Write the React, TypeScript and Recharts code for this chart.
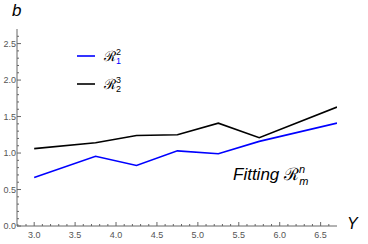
import React from "react";
import { LineChart, Line, XAxis, YAxis } from "recharts";

const xValues = [3.0, 3.75, 4.25, 4.75, 5.25, 5.75, 6.7];
const seriesR12 = [0.665, 0.955, 0.83, 1.03, 0.99, 1.16, 1.41];
const seriesR23 = [1.06, 1.14, 1.24, 1.25, 1.41, 1.21, 1.63];

const xMajorTicks = [3.0, 3.5, 4.0, 4.5, 5.0, 5.5, 6.0, 6.5];
const xAllTicks = [2.8, 2.9, 3.0, 3.1, 3.2, 3.3, 3.4, 3.5, 3.6, 3.7, 3.8, 3.9, 4.0, 4.1, 4.2, 4.3, 4.4, 4.5, 4.6, 4.7, 4.8, 4.9, 5.0, 5.1, 5.2, 5.3, 5.4, 5.5, 5.6, 5.7, 5.8, 5.9, 6.0, 6.1, 6.2, 6.3, 6.4, 6.5, 6.6];
const yMajorTicks = [0.0, 0.5, 1.0, 1.5, 2.0, 2.5];
const yAllTicks = [0.0, 0.1, 0.2, 0.3, 0.4, 0.5, 0.6, 0.7, 0.8, 0.9, 1.0, 1.1, 1.2, 1.3, 1.4, 1.5, 1.6, 1.7, 1.8, 1.9, 2.0, 2.1, 2.2, 2.3, 2.4, 2.5, 2.6];

const data = xValues.map((x, i) => ({ x, r12: seriesR12[i], r23: seriesR23[i] }));

const isMajor = (v: number, majors: number[]) => majors.some((m) => Math.abs(m - v) < 1e-6);
const TICK_COLOR = "#666";
const LABEL_COLOR = "#555";
const FONT = "Arial, 'Liberation Sans', sans-serif";

const XTick = (props: any) => {
  const { x, payload } = props;
  const major = isMajor(payload.value, xMajorTicks);
  const axisY = 226;
  return (
    <g>
      <line x1={x} x2={x} y1={axisY} y2={axisY - (major ? 4 : 2)} stroke={TICK_COLOR} strokeWidth={1} />
      {major && (
        <text x={x} y={axisY + 12} textAnchor="middle" fontSize={9} fill={LABEL_COLOR} fontFamily={FONT}>
          {payload.value.toFixed(1)}
        </text>
      )}
    </g>
  );
};

const YTick = (props: any) => {
  const { y, payload } = props;
  const major = isMajor(payload.value, yMajorTicks);
  const axisX = 17;
  return (
    <g>
      <line x1={axisX} x2={axisX + (major ? 4 : 2)} y1={y} y2={y} stroke={TICK_COLOR} strokeWidth={1} />
      {major && (
        <text x={axisX - 1} y={y + 3} textAnchor="end" fontSize={9} fill={LABEL_COLOR} fontFamily={FONT}>
          {payload.value.toFixed(1)}
        </text>
      )}
    </g>
  );
};

export default function App() {
  return (
    <div style={{ position: "absolute", left: 0, top: 0, width: 368, height: 244, background: "#fff" }}>
      <LineChart width={368} height={244} data={data} margin={{ top: 29, right: 31, bottom: 0, left: 0 }}>
        <XAxis
          dataKey="x"
          type="number"
          domain={[2.79, 6.7]}
          ticks={xAllTicks}
          interval={0}
          tick={<XTick />}
          tickLine={false}
          axisLine={{ stroke: TICK_COLOR }}
          height={18}
          allowDataOverflow
        />
        <YAxis
          type="number"
          domain={[0, 2.7]}
          ticks={yAllTicks}
          interval={0}
          tick={<YTick />}
          tickLine={false}
          axisLine={{ stroke: TICK_COLOR }}
          width={17}
          allowDataOverflow
        />
        <Line dataKey="r12" stroke="#0000ff" strokeWidth={1.6} dot={false} isAnimationActive={false} type="linear" />
        <Line dataKey="r23" stroke="#000000" strokeWidth={1.6} dot={false} isAnimationActive={false} type="linear" />
      </LineChart>
      <svg width={368} height={244} style={{ position: "absolute", left: 0, top: 0, pointerEvents: "none" }}>
        <text x={12} y={16} fontSize={17} fontStyle="italic" fontFamily={FONT}>b</text>
        <text x={347} y={229} fontSize={16} fontStyle="italic" fontFamily={FONT}>Y</text>
        <line x1={77} x2={95} y1={56} y2={56} stroke="#0000ff" strokeWidth={1.6} />
        <text x={104} y={61} fontSize={14} fontFamily={FONT} fill="#000">
          <tspan>ℛ</tspan>
          <tspan dy={-6} fontSize={9}>2</tspan>
          <tspan dx={-5} dy={9} fontSize={9} fill="#0000ff">1</tspan>
        </text>
        <line x1={77} x2={95} y1={84} y2={84} stroke="#000" strokeWidth={1.6} />
        <text x={104} y={89} fontSize={14} fontFamily={FONT} fill="#000">
          <tspan>ℛ</tspan>
          <tspan dy={-6} fontSize={9}>3</tspan>
          <tspan dx={-5} dy={9} fontSize={9}>2</tspan>
        </text>
        <text x={233} y={180} fontSize={17} fontFamily={FONT} fill="#000">
          <tspan fontStyle="italic">Fitting </tspan>
          <tspan>ℛ</tspan>
          <tspan dy={-7} fontSize={11} fontStyle="italic">n</tspan>
          <tspan dx={-6} dy={12} fontSize={11} fontStyle="italic">m</tspan>
        </text>
      </svg>
    </div>
  );
}
